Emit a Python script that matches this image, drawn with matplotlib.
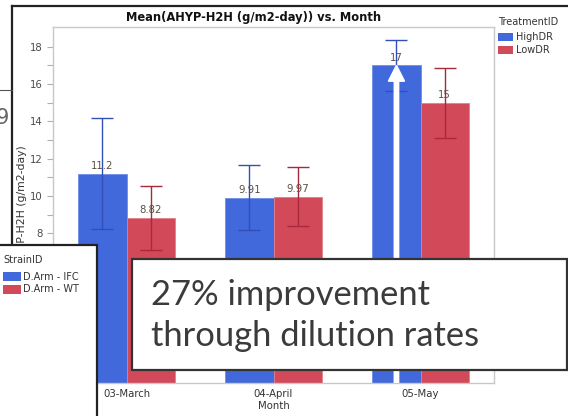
import numpy as np
import matplotlib.pyplot as plt
from matplotlib.patches import Rectangle

# data
months = ['03-March', '04-April', '05-May']
high_dr = [11.2, 9.91, 17.0]
low_dr = [8.82, 9.97, 15.0]
high_err = [2.97, 1.73, 1.35]
low_err = [1.7, 1.58, 1.87]
high_lbl = ['11.2', '9.91', '17']
low_lbl = ['8.82', '9.97', '15']

blue = '#4169DB'
red = '#D24A5A'
blue_err = '#3050B8'
red_err = '#A8283C'
gray = '#c8c8c8'

W, H = 568, 416
fig = plt.figure(figsize=(W / 100, H / 100), dpi=100)
plt.rcParams['font.family'] = 'DejaVu Sans'

def fx(px):
    return px / W

def fy(py):
    return 1 - py / H

ax = fig.add_axes([fx(53), fy(383), fx(494) - fx(53), fy(27) - fy(383)])

x = np.arange(len(months))
bw = 0.327
b1 = ax.bar(x - bw / 2, high_dr, bw, color=blue, edgecolor='#6f8ee6', linewidth=0.6, zorder=2)
b2 = ax.bar(x + bw / 2, low_dr, bw, color=red, edgecolor='#e07f8a', linewidth=0.6, zorder=2)
ax.errorbar(x - bw / 2, high_dr, yerr=high_err, fmt='none', ecolor=blue_err,
            elinewidth=1, capsize=8, capthick=1, zorder=3)
ax.errorbar(x + bw / 2, low_dr, yerr=low_err, fmt='none', ecolor=red_err,
            elinewidth=1, capsize=8, capthick=1, zorder=3)
for xi, v, t in zip(x - bw / 2, high_dr, high_lbl):
    ax.text(xi, v + 0.15, t, ha='center', va='bottom', fontsize=7.3, color='#5a5040', zorder=4)
for xi, v, t in zip(x + bw / 2, low_dr, low_lbl):
    ax.text(xi, v + 0.15, t, ha='center', va='bottom', fontsize=7.3, color='#5a5040', zorder=4)

# white arrow inside the May HighDR bar
ax.arrow(2 - bw / 2, 0, 0, high_dr[2], width=0.03, head_width=0.11, head_length=0.85,
         length_includes_head=True, color='white', zorder=5)

ax.set_xlim(-0.5, 2.5)
ax.set_ylim(0, 19.05)
ax.set_xticks(x)
ax.set_xticklabels(months, fontsize=7.3, color='#333333')
ax.set_yticks(np.arange(0, 19, 2))
ax.set_yticks(np.arange(1, 19, 2), minor=True)
ax.tick_params(axis='y', labelsize=7.3, colors='#b0b0b0', labelcolor='#4a4a4a', length=4, width=0.8)
ax.tick_params(axis='y', which='minor', length=4, width=0.8, colors='#b0b0b0')
ax.tick_params(axis='x', length=0, pad=4)
for s in ax.spines.values():
    s.set_color(gray)
    s.set_linewidth(1)
ax.set_xlabel('Month', fontsize=7.3, color='#333333', labelpad=2)
ax.set_ylabel('AHYP-H2H (g/m2-day)', fontsize=7.8, color='#333333', labelpad=2)

fig.text(fx(254), fy(17), 'Mean(AHYP-H2H (g/m2-day)) vs. Month', ha='center', va='center',
         fontsize=8.3, fontweight='bold', color='#111111')

# TreatmentID legend
fig.text(fx(498), fy(22), 'TreatmentID', fontsize=7, color='#333333', va='center')
fig.patches.append(Rectangle((fx(498), fy(41)), fx(15), fy(33) - fy(41), transform=fig.transFigure,
                             facecolor=blue, edgecolor='none'))
fig.patches.append(Rectangle((fx(498), fy(54)), fx(15), fy(46) - fy(54), transform=fig.transFigure,
                             facecolor=red, edgecolor='none'))
fig.text(fx(516), fy(37), 'HighDR', fontsize=7, color='#333333', va='center')
fig.text(fx(516), fy(50), 'LowDR', fontsize=7, color='#333333', va='center')

# window frame lines
fig.add_artist(plt.Line2D([fx(12), 1], [fy(6), fy(6)], color='#222222', lw=1.6))
fig.add_artist(plt.Line2D([fx(12), fx(12)], [fy(6), fy(245)], color='#222222', lw=1.6))
fig.add_artist(plt.Line2D([0, fx(12)], [fy(90), fy(90)], color='#555555', lw=0.8))
fig.text(fx(-4), fy(118), '9', fontsize=15, color='#666666', va='center')

# StrainID box
fig.patches.append(Rectangle((fx(-5), fy(430)), fx(102), fy(245) - fy(430), transform=fig.transFigure,
                             facecolor='white', edgecolor='#222222', linewidth=1.6, zorder=10))
fig.text(fx(3), fy(260), 'StrainID', fontsize=7, color='#333333', va='center', zorder=11)
fig.patches.append(Rectangle((fx(3), fy(281)), fx(18), fy(272) - fy(281), transform=fig.transFigure,
                             facecolor=blue, edgecolor='none', zorder=11))
fig.patches.append(Rectangle((fx(3), fy(294)), fx(18), fy(285) - fy(294), transform=fig.transFigure,
                             facecolor=red, edgecolor='none', zorder=11))
fig.text(fx(23), fy(276.5), 'D.Arm - IFC', fontsize=7, color='#333333', va='center', zorder=11)
fig.text(fx(23), fy(289.5), 'D.Arm - WT', fontsize=7, color='#333333', va='center', zorder=11)

# callout text box
fig.patches.append(Rectangle((fx(132), fy(370)), fx(435), fy(259) - fy(370), transform=fig.transFigure,
                             facecolor='white', edgecolor='#333333', linewidth=1.6, zorder=10))
fig.text(fx(151), fy(305), '27% improvement', fontsize=24.8, color='#3b3b3b', va='baseline',
         family='Lato', zorder=11)
fig.text(fx(151), fy(346), 'through dilution rates', fontsize=24.8, color='#3b3b3b', va='baseline',
         family='Lato', zorder=11)

fig.savefig('out.png', dpi=100)
